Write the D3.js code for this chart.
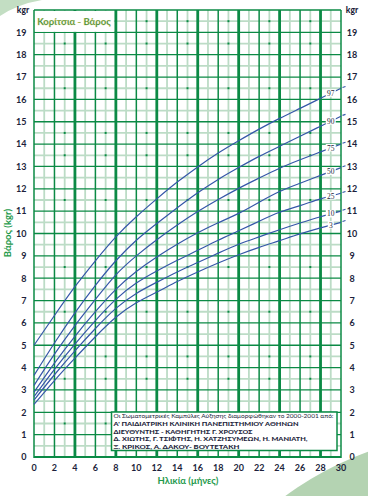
<!DOCTYPE html>
<html><head><meta charset="utf-8">
<script src="https://cdn.jsdelivr.net/npm/d3@7"></script>
<style>html,body{margin:0;padding:0;background:#fff;} svg{display:block;}</style>
</head><body>
<svg id="c" width="368" height="496"></svg>
<script>
// ---- data ----
const months = [0, 2, 4, 6, 8, 10, 12, 14, 16, 18, 20, 22, 24, 26, 28, 30];
const p97 = [5.0, 6.33, 7.62, 8.78, 9.85, 10.75, 11.55, 12.3, 12.98, 13.6, 14.15, 14.67, 15.15, 15.6, 16.05, 16.5];
const p90 = [3.65, 5.1, 6.45, 7.68, 8.78, 9.7, 10.45, 11.15, 11.82, 12.42, 12.95, 13.45, 13.9, 14.35, 14.8, 15.25];
const p75 = [3.2, 4.6, 5.88, 7.05, 8.15, 9.0, 9.72, 10.38, 10.98, 11.52, 12.02, 12.48, 12.92, 13.3, 13.65, 14.0];
const p50 = [2.9, 4.2, 5.4, 6.5, 7.5, 8.3, 8.95, 9.52, 10.03, 10.48, 10.9, 11.4, 11.88, 12.25, 12.6, 12.95];
const p25 = [2.7, 3.92, 5.05, 6.1, 7.05, 7.78, 8.32, 8.8, 9.25, 9.7, 10.12, 10.55, 10.95, 11.25, 11.55, 11.8];
const p10 = [2.55, 3.68, 4.75, 5.75, 6.65, 7.32, 7.82, 8.28, 8.7, 9.12, 9.52, 9.85, 10.17, 10.47, 10.75, 11.0];
const p3  = [2.35, 3.42, 4.42, 5.38, 6.25, 6.9, 7.38, 7.85, 8.28, 8.68, 9.05, 9.38, 9.68, 9.98, 10.25, 10.5];
const percentileNames = ["97", "90", "75", "50", "25", "10", "3"];
const xTickLabels = [0, 2, 4, 6, 8, 10, 12, 14, 16, 18, 20, 22, 24, 26, 28, 30];
const yTickLabels = [0, 1, 2, 3, 4, 5, 6, 7, 8, 9, 10, 11, 12, 13, 14, 15, 16, 17, 18, 19];
const dotMonths = [3, 7, 11, 15, 19, 23, 27];
const dotKg = [1.5, 3.5, 4.5, 6.5, 8.5, 11.5, 13.5, 14.5, 16.5, 18.5, 19.5];
const titleText = "Κορίτσια - Βάρος";
const xTitle = "Ηλικία (μήνες)";
const yTitle = "Βάρος (kgr)";
const unitText = "kgr";
const creditLines = [
  "Οι Σωματομετρικές Καμπύλες Αύξησης διαμορφώθηκαν το 2000-2001 από:",
  "Α' ΠΑΙΔΙΑΤΡΙΚΗ ΚΛΙΝΙΚΗ ΠΑΝΕΠΙΣΤΗΜΙΟΥ ΑΘΗΝΩΝ",
  "ΔΙΕΥΘΥΝΤΗΣ - ΚΑΘΗΓΗΤΗΣ Γ. ΧΡΟΥΣΟΣ",
  "Δ. ΧΙΩΤΗΣ, Γ. ΤΣΙΦΤΗΣ, Η. ΧΑΤΖΗΣΥΜΕΩΝ, Η. ΜΑΝΙΑΤΗ,",
  "Ξ. ΚΡΙΚΟΣ, Α. ΔΑΚΟΥ- ΒΟΥΤΕΤΑΚΗ"
];

const series = [p97, p90, p75, p50, p25, p10, p3];

// ---- drawing ----
const svg = d3.select("#c");
const x = d3.scaleLinear().domain([0, 30]).range([34, 341]);
const y = d3.scaleLinear().domain([0, 20]).range([457, 10]);
const GREEN = "#0b8a45", PALE = "#bcdcc6", BLUE = "#3556a8", INK = "#1d1f3c";
const FONT = "Lato, 'Open Sans', sans-serif";

// background decorations
svg.append("path").attr("d", "M0,0 L42,0 Q18,4 0,16 Z").attr("fill", "#c3dec3");
svg.append("circle").attr("cx", 480).attr("cy", 760).attr("r", 328).attr("fill", "#b4d3b2");

const g = svg.append("g");
const allMonths = d3.range(0, 31);
const halfKg = d3.range(0.5, 20, 1);
const intKg = d3.range(0, 21);

// pale lines
g.selectAll(".pv").data(allMonths.filter(m => m % 2 === 1)).join("line")
  .attr("x1", d => x(d)).attr("x2", d => x(d)).attr("y1", y(0)).attr("y2", y(20))
  .attr("stroke", PALE).attr("stroke-width", 1.8);
g.selectAll(".ph").data(halfKg).join("line")
  .attr("x1", x(0)).attr("x2", x(30)).attr("y1", d => y(d)).attr("y2", d => y(d))
  .attr("stroke", PALE).attr("stroke-width", 1.8);
// green lines
g.selectAll(".gh").data(intKg).join("line")
  .attr("x1", x(0)).attr("x2", x(30)).attr("y1", d => y(d)).attr("y2", d => y(d))
  .attr("stroke", GREEN).attr("stroke-width", d => d === 0 ? 2 : 1.3);
g.selectAll(".gv").data(allMonths.filter(m => m % 2 === 0)).join("line")
  .attr("x1", d => x(d)).attr("x2", d => x(d)).attr("y1", y(0) + 1).attr("y2", y(20))
  .attr("stroke", GREEN).attr("stroke-width", d => (d % 4 === 0 && d !== 0) ? 2.8 : 1.5);
// dots
const dots = [];
dotMonths.forEach(m => dotKg.forEach(k => dots.push([m, k])));
g.selectAll(".dot").data(dots).join("rect")
  .attr("x", d => x(d[0]) - 1).attr("y", d => y(d[1]) - 1).attr("width", 2).attr("height", 2)
  .attr("fill", GREEN);

// title box
svg.append("rect").attr("x", x(0) + 1).attr("y", y(20) + 1)
  .attr("width", x(8) - x(0) - 3).attr("height", y(19) - y(20) - 1.5).attr("fill", "#fff");
svg.append("text").attr("x", (x(0) + x(8)) / 2 - 1).attr("y", (y(20) + y(19)) / 2 + 3.5)
  .attr("text-anchor", "middle").attr("font-family", FONT).attr("font-weight", "bold")
  .attr("font-size", 9.5).attr("fill", "#2f8a3a").attr("stroke", "#e6d36a").attr("stroke-width", 0.25)
  .text(titleText);

// credit box
const bx = 111.5, by = 412, bw = 225.5, bh = 38.5;
svg.append("rect").attr("x", bx).attr("y", by).attr("width", bw).attr("height", bh)
  .attr("fill", "#fff").attr("stroke", GREEN).attr("stroke-width", 1.5);
const lineY = [417.8, 425.8, 433.6, 441.3, 448.6];
const lineW = [220, 185, 139, 194, 126];
creditLines.forEach((t, i) => {
  svg.append("text").attr("x", 113.5).attr("y", lineY[i])
    .attr("font-family", FONT).attr("font-size", i === 0 ? 6 : 6.4)
    .attr("font-weight", i === 0 ? "normal" : "900").attr("fill", INK)
    .attr("textLength", lineW[i]).attr("lengthAdjust", "spacingAndGlyphs")
    .text(t);
});

// curves
const line = d3.line().x((d, i) => x(months[i])).y(d => y(d)).curve(d3.curveNatural);
svg.selectAll(".curve").data(series).join("path")
  .attr("d", d => line(d)).attr("fill", "none").attr("stroke", BLUE).attr("stroke-width", 1.2);
// end dashes
svg.selectAll(".dash").data(series).join("line")
  .attr("x1", x(30) + 1.5).attr("x2", x(30) + 4.5)
  .attr("y1", d => y(d[d.length - 1]) - 0.8).attr("y2", d => y(d[d.length - 1]) - 1.8)
  .attr("stroke", BLUE).attr("stroke-width", 1.1);
// curve labels
series.forEach((s, i) => {
  const v = (s[s.length - 2] + s[s.length - 1]) / 2;
  const lx = x(29), ly = y(v);
  const w = percentileNames[i].length === 1 ? 6 : 10;
  svg.append("rect").attr("x", lx - w / 2).attr("y", ly - 4).attr("width", w).attr("height", 7.5).attr("fill", "#fff");
  svg.append("text").attr("x", lx).attr("y", ly + 2.5).attr("text-anchor", "middle")
    .attr("font-family", "'Liberation Serif', serif").attr("font-size", 7.5).attr("fill", INK)
    .text(percentileNames[i]);
});

// y tick labels
svg.selectAll(".yl").data(yTickLabels).join("text")
  .attr("x", 26.5).attr("y", d => y(d) + 3.3).attr("text-anchor", "end")
  .attr("font-family", FONT).attr("font-weight", "bold").attr("font-size", 9).attr("fill", INK)
  .text(d => d);
svg.selectAll(".yr").data(yTickLabels).join("text")
  .attr("x", 352).attr("y", d => y(d) + 3.3).attr("text-anchor", "middle")
  .attr("font-family", FONT).attr("font-weight", "bold").attr("font-size", 9).attr("fill", INK)
  .text(d => d);
[23, 352].forEach(cx => svg.append("text").attr("x", cx).attr("y", 13).attr("text-anchor", "middle")
  .attr("font-family", FONT).attr("font-weight", "900").attr("font-size", 8.5).attr("fill", INK).text(unitText));

// x tick labels
svg.selectAll(".xl").data(xTickLabels).join("text")
  .attr("x", d => x(d)).attr("y", 470.5).attr("text-anchor", "middle")
  .attr("font-family", FONT).attr("font-weight", "bold").attr("font-size", 9).attr("fill", INK)
  .text(d => d);

// axis titles
svg.append("text").attr("x", 188).attr("y", 484).attr("text-anchor", "middle")
  .attr("font-family", FONT).attr("font-weight", "bold").attr("font-size", 9.5).attr("fill", "#1f9a4c")
  .text(xTitle);
svg.append("text").attr("transform", "translate(10.5,233) rotate(-90)").attr("text-anchor", "middle")
  .attr("font-family", FONT).attr("font-weight", "bold").attr("font-size", 9.5).attr("fill", "#1f9a4c")
  .text(yTitle);
</script>
</body></html>
